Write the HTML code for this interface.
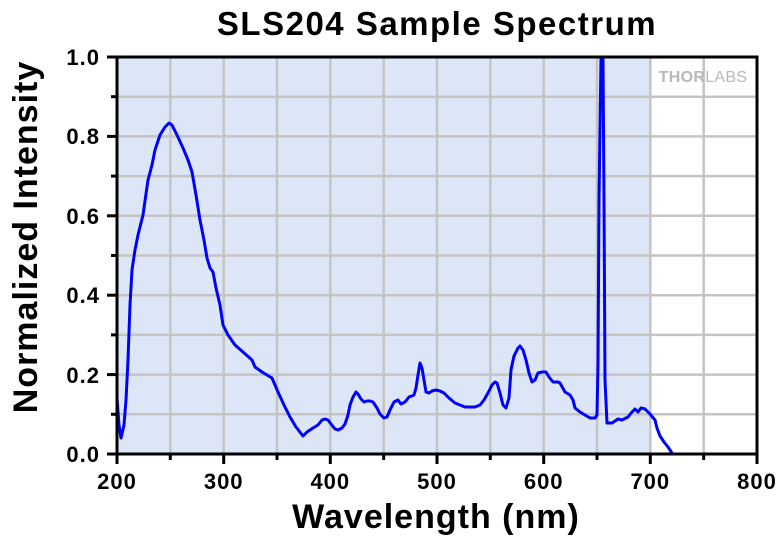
<!DOCTYPE html>
<html><head><meta charset="utf-8"><style>html,body{margin:0;padding:0;background:#fff}svg{display:block}</style></head><body>
<svg width="780" height="537" xmlns="http://www.w3.org/2000/svg" font-family="Liberation Sans, Arial, sans-serif" font-weight="bold">
<rect x="117" y="57" width="533" height="397" fill="#dde6f7"/>
<g stroke="#c4c4c4" stroke-width="2.5">
<line x1="170.3" y1="57" x2="170.3" y2="454"/><line x1="223.7" y1="57" x2="223.7" y2="454"/><line x1="277" y1="57" x2="277" y2="454"/><line x1="330.3" y1="57" x2="330.3" y2="454"/><line x1="383.7" y1="57" x2="383.7" y2="454"/><line x1="437" y1="57" x2="437" y2="454"/><line x1="490.3" y1="57" x2="490.3" y2="454"/><line x1="543.7" y1="57" x2="543.7" y2="454"/><line x1="597" y1="57" x2="597" y2="454"/><line x1="650.3" y1="57" x2="650.3" y2="454"/><line x1="703.7" y1="57" x2="703.7" y2="454"/>
<line x1="117" y1="414.3" x2="757" y2="414.3"/><line x1="117" y1="374.6" x2="757" y2="374.6"/><line x1="117" y1="334.9" x2="757" y2="334.9"/><line x1="117" y1="295.2" x2="757" y2="295.2"/><line x1="117" y1="255.5" x2="757" y2="255.5"/><line x1="117" y1="215.8" x2="757" y2="215.8"/><line x1="117" y1="176.1" x2="757" y2="176.1"/><line x1="117" y1="136.4" x2="757" y2="136.4"/><line x1="117" y1="96.7" x2="757" y2="96.7"/>
</g>
<text x="703" y="82" font-size="16" fill="#b8b8b8" text-anchor="middle" letter-spacing="0.3">THOR<tspan font-weight="normal">LABS</tspan></text>
<polyline fill="none" stroke="#0000ff" stroke-width="3" stroke-linejoin="round" points="117,398 119,425 121,438 124,425 126,400 128,360 130,305 132,270 135,250 138,235 143,215 148,180 152,165 155,150 160,135 165,127 169,123 172,125 177,135 183,148 188,160 192,172 196,195 200,220 204,240 207,258 210,268 213,272 216,288 220,305 223,325 228,335 235,345 243,352 252,360 255,367 262,372 267,375 272,378 278,392 284,405 290,417 296,427 303,436 307,432 313,428 318,425 322,420 325,419 328,420 331,424 335,429 338,430 342,428 345,424 348,415 350,405 353,397 356,392 358,394 361,399 364,402 367,401 370,401 373,402 377,408 380,414 384,418 387,417 390,410 394,402 398,400 401,404 405,402 409,397 414,395 416,388 418,375 420,363 422,368 424,380 426,392 429,393 432,391 436,390 440,391 444,393 449,398 455,403 460,405 465,407 470,407 475,407 480,405 484,400 488,393 492,385 495,382 497,383 500,393 503,405 506,408 509,398 511,370 514,356 518,348 520,346 523,350 526,360 529,373 532,382 535,380 538,373 542,372 546,372 549,377 553,382 558,382 560,383 565,392 570,395 573,400 575,408 580,412 585,415 590,418 595,418 597,415 598,365 599,200 601,58 603,58 604,200 605,380 607,423 612,423 615,421 618,419 622,420 628,417 632,412 635,409 638,412 641,408 645,409 650,414 655,420 657,428 660,436 664,442 668,447 672,453"/>
<rect x="117" y="57" width="640" height="397" fill="none" stroke="#000" stroke-width="3"/>
<g stroke="#000" stroke-width="3">
<line x1="107" y1="57" x2="117" y2="57"/><line x1="107" y1="136.4" x2="117" y2="136.4"/><line x1="107" y1="215.8" x2="117" y2="215.8"/><line x1="107" y1="295.2" x2="117" y2="295.2"/><line x1="107" y1="374.6" x2="117" y2="374.6"/><line x1="107" y1="454" x2="117" y2="454"/>
<line x1="111" y1="96.7" x2="117" y2="96.7"/><line x1="111" y1="176.1" x2="117" y2="176.1"/><line x1="111" y1="255.5" x2="117" y2="255.5"/><line x1="111" y1="334.9" x2="117" y2="334.9"/><line x1="111" y1="414.3" x2="117" y2="414.3"/>
<line x1="117" y1="454" x2="117" y2="464"/><line x1="223.7" y1="454" x2="223.7" y2="464"/><line x1="330.3" y1="454" x2="330.3" y2="464"/><line x1="437" y1="454" x2="437" y2="464"/><line x1="543.7" y1="454" x2="543.7" y2="464"/><line x1="650.3" y1="454" x2="650.3" y2="464"/><line x1="757" y1="454" x2="757" y2="464"/>
<line x1="170.3" y1="454" x2="170.3" y2="460"/><line x1="277" y1="454" x2="277" y2="460"/><line x1="383.7" y1="454" x2="383.7" y2="460"/><line x1="490.3" y1="454" x2="490.3" y2="460"/><line x1="597" y1="454" x2="597" y2="460"/><line x1="703.7" y1="454" x2="703.7" y2="460"/>
</g>
<g font-size="22" text-anchor="end" fill="#000" letter-spacing="1">
<text x="100" y="65">1.0</text><text x="100" y="144">0.8</text><text x="100" y="224">0.6</text><text x="100" y="303">0.4</text><text x="100" y="383">0.2</text><text x="100" y="462">0.0</text>
</g>
<g font-size="22" text-anchor="middle" fill="#000" letter-spacing="1">
<text x="117" y="489">200</text><text x="223.7" y="489">300</text><text x="330.3" y="489">400</text><text x="437" y="489">500</text><text x="543.7" y="489">600</text><text x="650.3" y="489">700</text><text x="757" y="489">800</text>
</g>
<text x="436" y="528" font-size="34" text-anchor="middle" letter-spacing="1">Wavelength (nm)</text>
<text x="437" y="35" font-size="33" text-anchor="middle" letter-spacing="1.5">SLS204 Sample Spectrum</text>
<text transform="translate(37,237) rotate(-90)" font-size="34" text-anchor="middle" letter-spacing="1">Normalized Intensity</text>
</svg>
</body></html>
